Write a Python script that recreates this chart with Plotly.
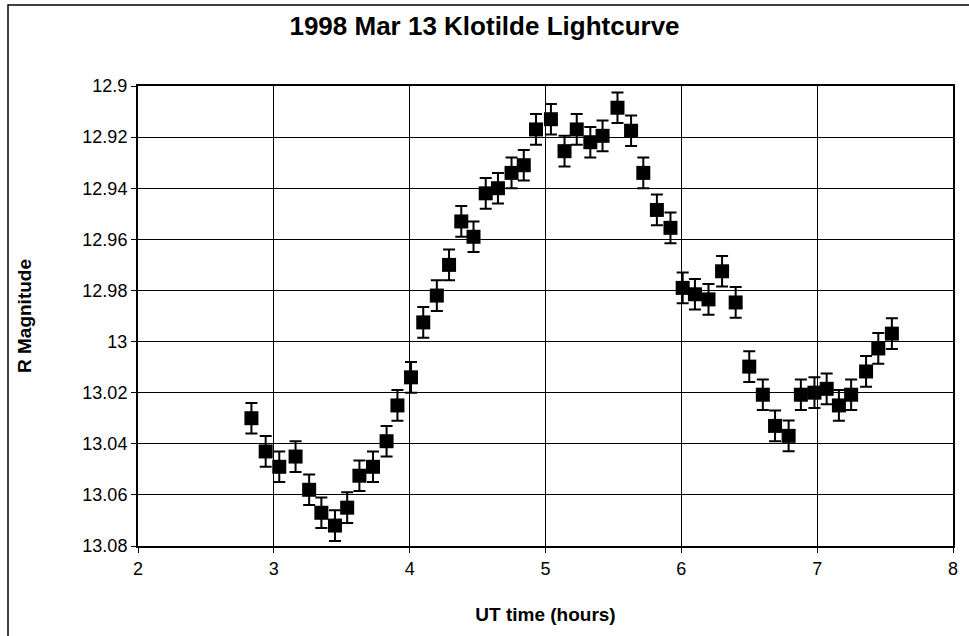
import plotly.graph_objects as go

ut_hours = [2.835, 2.94, 3.04, 3.16, 3.26, 3.35, 3.45, 3.54, 3.63, 3.73,
            3.83, 3.91, 4.01, 4.10, 4.20, 4.29, 4.38, 4.47, 4.56, 4.65,
            4.75, 4.84, 4.93, 5.04, 5.14, 5.23, 5.33, 5.42, 5.53, 5.63,
            5.72, 5.82, 5.92, 6.01, 6.10, 6.20, 6.30, 6.40, 6.50, 6.60,
            6.69, 6.79, 6.88, 6.98, 7.07, 7.16, 7.25, 7.36, 7.45, 7.55]
r_mag = [13.030, 13.043, 13.049, 13.045, 13.058, 13.067, 13.072, 13.065, 13.0525, 13.049,
         13.039, 13.025, 13.014, 12.9925, 12.982, 12.970, 12.953, 12.959, 12.942, 12.940,
         12.934, 12.931, 12.917, 12.913, 12.9255, 12.917, 12.922, 12.9195, 12.9085, 12.9175,
         12.934, 12.9485, 12.9555, 12.979, 12.9815, 12.9835, 12.9725, 12.9847, 13.0098, 13.0208,
         13.033, 13.0369, 13.0208, 13.020, 13.0185, 13.025, 13.0208, 13.0117, 13.0027, 12.9969]
mag_err = [0.006] * len(r_mag)

x_ticks = [2, 3, 4, 5, 6, 7, 8]
y_ticks = [12.9, 12.92, 12.94, 12.96, 12.98, 13.0, 13.02, 13.04, 13.06, 13.08]
y_tick_labels = ["12.9", "12.92", "12.94", "12.96", "12.98", "13", "13.02", "13.04", "13.06", "13.08"]

font = "Liberation Sans, Arial, sans-serif"

fig = go.Figure()
fig.add_trace(go.Scatter(
    x=ut_hours, y=r_mag, mode="markers",
    marker=dict(symbol="square", size=14, color="black"),
    error_y=dict(type="data", array=mag_err, visible=True, color="black",
                 thickness=2, width=6),
    showlegend=False,
))

fig.update_layout(
    width=969, height=636,
    margin=dict(l=138, r=16, t=86, b=90),
    paper_bgcolor="white", plot_bgcolor="white",
    font=dict(family=font, color="black", size=18),
    title=dict(text="<b>1998 Mar 13 Klotilde Lightcurve</b>", x=0.5, xanchor="center",
               y=1 - 26 / 636, yanchor="middle", font=dict(size=26, family=font)),
    xaxis=dict(range=[2, 8], tickvals=x_ticks, ticks="outside", ticklen=5, tickcolor="black",
               showgrid=True, gridcolor="black", gridwidth=1,
               showline=True, linecolor="black", linewidth=2, mirror=True,
               zeroline=False,
               title=dict(text="<b>UT time (hours)</b>", font=dict(size=19), standoff=30)),
    yaxis=dict(range=[13.08, 12.9], tickvals=y_ticks, ticktext=y_tick_labels,
               ticks="outside", ticklen=5, tickcolor="black",
               showgrid=True, gridcolor="black", gridwidth=1,
               showline=True, linecolor="black", linewidth=2, mirror=True,
               zeroline=False,
               title=dict(text="<b>R Magnitude</b>", font=dict(size=19), standoff=46)),
    shapes=[dict(type="rect", xref="paper", yref="paper",
                 x0=-0.1595, x1=1.2, y0=-0.3, y1=1.176,
                 line=dict(color="black", width=1.5), layer="below")],
)

fig.write_html("out.html", config={"displayModeBar": False},
               post_script="document.body.style.margin='0';document.body.style.overflow='hidden';")
